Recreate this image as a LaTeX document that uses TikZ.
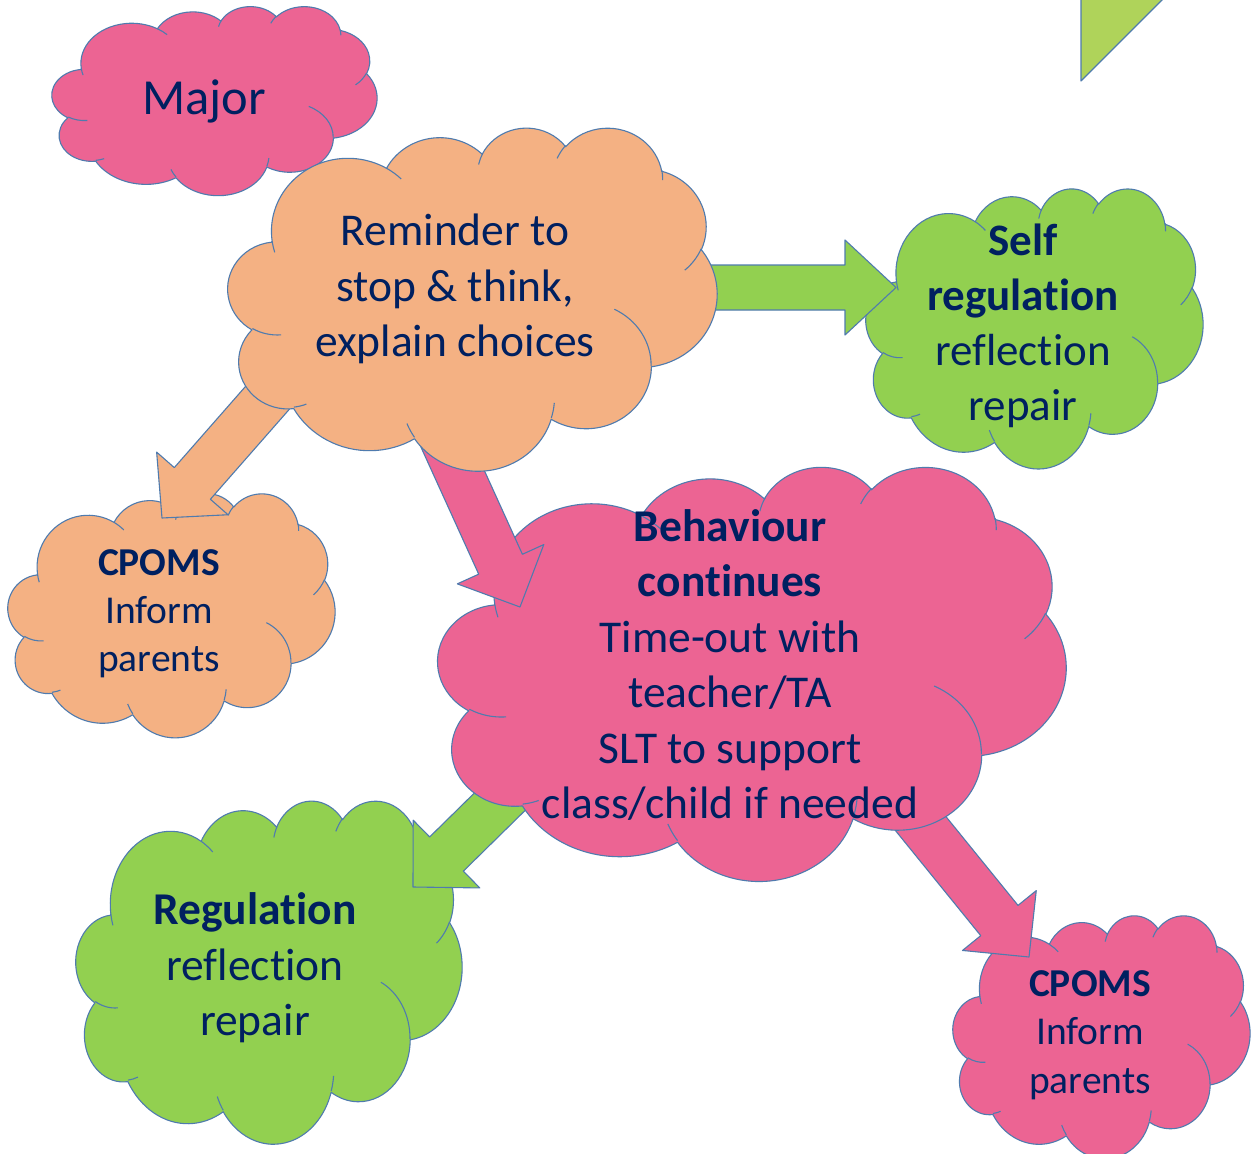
\documentclass[tikz,border=0pt]{standalone}
\usepackage{fontspec}
\setmainfont{Carlito}[Ligatures=NoCommon]
\usetikzlibrary{calc}

\definecolor{pinkfill}{HTML}{EC6493}
\definecolor{peachfill}{HTML}{F4B183}
\definecolor{greenfill}{HTML}{92D050}
\definecolor{limefill}{HTML}{AFD35A}
\definecolor{edgeblue}{HTML}{4F7BAE}
\definecolor{navytext}{HTML}{002060}

\pgfdeclarelayer{bg}
\pgfsetlayers{bg,main}

% one lobe of the cloud outline: radii, start angle and sweep (geometric degrees)
\newcommand\puff[4]{arc[x radius=#1,y radius=#2,start angle={pa(#3,#1,#2)},end angle={pa(#3+#4,#1,#2)}]}

% cloud outline in a 43.2 x 43.2 box, y pointing down
\newcommand\cloudouter{(3.900,14.370)
 \puff{6.753}{9.190}{-190.48748}{123.78053}
 \puff{5.333}{7.267}{-144.10238}{89.94523}
 \puff{4.365}{5.945}{-145.80792}{99.72302}
 \puff{4.857}{6.595}{-130.98607}{117.24173}
 \puff{5.333}{7.273}{-78.70888}{109.02692}
 \puff{6.775}{9.220}{-46.26725}{130.269}
 \puff{5.785}{7.867}{0.62502}{114.03333}
 \puff{6.752}{9.215}{22.4516}{115.17255}
 \puff{7.720}{10.543}{66.24263}{75.71102}
 \puff{4.360}{5.918}{-274.94208}{146.73557}
 \puff{4.345}{5.945}{-246.8285}{152.51885}
 -- cycle}

% short inner creases between the lobes
\newcommand\cloudinner{
 (4.693,26.177) \puff{4.345}{5.945}{86.742}{26.4295}
 (6.928,34.899) \puff{4.360}{5.918}{73.61047}{11.44747}
 (16.478,39.090) \puff{6.752}{9.215}{137.62415}{14.0811}
 (28.827,34.751) \puff{6.752}{9.215}{6.45327}{15.99835}
 (34.129,22.954) \puff{5.785}{7.867}{-70.29235}{70.91737}
 (41.798,15.354) \puff{5.333}{7.273}{30.31803}{27.7515}
 (38.324,5.426) \puff{4.857}{6.595}{-13.74433}{14.85973}
 (29.078,3.952) \puff{4.857}{6.595}{-149.18145}{18.19757}
 (22.141,4.720) \puff{4.365}{5.945}{-163.49427}{17.68865}
 (14.000,5.192) \puff{6.753}{9.190}{-66.70695}{12.31935}
 (4.127,15.789) \puff{6.753}{9.190}{157.65435}{11.85817}
}

% cloud with top-left corner (#1,#2), width #3, height #4, fill #5
\newcommand\cloudshape[5]{%
  \begin{scope}[shift={(#1,#2)}, xscale=#3/43.2, yscale=#4/43.2]
    \fill[#5] \cloudouter;
    \draw[edge] \cloudouter;
    \draw[edge] \cloudinner;
  \end{scope}}

\tikzset{
  edge/.style={draw=edgeblue, line width=1.1pt, line join=round},
  txt/.style={text=navytext, align=center, inner sep=0pt},
  arrowdims/.code args={#1/#2/#3}{\def\aw{#1}\def\ah{#2}\def\al{#3}},
  blockarrow/.style={edge, arrowdims=#1, to path={
    ($(\tikztostart)!\aw!90:(\tikztotarget)$)
    -- ($(\tikztotarget)!\al!(\tikztostart)!\aw!90:(\tikztotarget)$)
    -- ($(\tikztotarget)!\al!(\tikztostart)!\ah!90:(\tikztotarget)$)
    -- (\tikztotarget)
    -- ($(\tikztotarget)!\al!(\tikztostart)!\ah!-90:(\tikztotarget)$)
    -- ($(\tikztotarget)!\al!(\tikztostart)!\aw!-90:(\tikztotarget)$)
    -- ($(\tikztostart)!\aw!-90:(\tikztotarget)$)
    -- cycle}},
}

\begin{document}
\begin{tikzpicture}[x=1pt, y=-1pt,
  declare function={pa(\pA,\pW,\pH)=\pA+atan(((\pW-\pH)*sin(\pA)*cos(\pA))/(\pH*cos(\pA)*cos(\pA)+\pW*sin(\pA)*sin(\pA)));}]
\useasboundingbox (0,0) rectangle (1251,1154);

% texts
\node[txt, font=\fontsize{50.5}{60}\selectfont] (major) at (204,101) {Major};
\node[txt, font=\fontsize{45.5}{55.5}\selectfont] (remind) at (455,289)
  {Reminder to\\stop \& think,\\explain choices};
\node[txt, font=\fontsize{45}{55}\selectfont] (selfreg) at (1023,326)
  {\textbf{Self}\\\textbf{regulation}\\reflection\\repair};
\node[txt, font=\fontsize{39.5}{48}\selectfont] (cpomsL) at (159,614)
  {\textbf{CPOMS}\\Inform\\parents};
\node[txt, font=\fontsize{45.5}{55.4}\selectfont] (behav) at (730,665)
  {\textbf{Behaviour}\\\textbf{continues}\\Time-out with\\teacher/TA\\SLT to support\\class/child if needed};
\node[txt, font=\fontsize{45.5}{55.5}\selectfont] (reg) at (255,968)
  {\textbf{Regulation}\\reflection\\repair};
\node[txt, font=\fontsize{39.5}{48.5}\selectfont] (cpomsR) at (1090,1035)
  {\textbf{CPOMS}\\Inform\\parents};

% arrow ends
\coordinate (aS) at (700,287.5);  \coordinate (aT) at (896,287.5);
\coordinate (bS) at (298,363);    \coordinate (bT) at (162,518);
\coordinate (cS) at (430,409);    \coordinate (cT) at (520,607);
\coordinate (dS) at (532,770);    \coordinate (dT) at (413,887);
\coordinate (eS) at (904,803);    \coordinate (eT) at (1029,957);

\begin{pgfonlayer}{bg}
  \fill[white] (0,0) rectangle (1251,1154);
  \cloudshape{52}{6}{325}{189}{pinkfill}
  \cloudshape{866}{188}{337}{280}{greenfill}
  \cloudshape{8}{493}{327}{244}{peachfill}
  \cloudshape{76}{800}{386}{343}{greenfill}
  \cloudshape{953}{915}{297}{243}{pinkfill}
  \draw[blockarrow=24pt/47.5pt/47pt, fill=greenfill] (dS) to (dT);
  \draw[blockarrow=24pt/47.5pt/47pt, fill=pinkfill] (eS) to (eT);
  \cloudshape{438}{466}{628}{414}{pinkfill}
  \draw[blockarrow=22.5pt/47.5pt/51pt, fill=greenfill] (aS) to (aT);
  \draw[blockarrow=24pt/47.5pt/46pt, fill=peachfill] (bS) to (bT);
  \draw[blockarrow=24pt/47.5pt/47pt, fill=pinkfill] (cS) to (cT);
  \cloudshape{228}{127}{489}{343}{peachfill}
  \draw[edge, fill=limefill] (1081,-10) -- (1081,81) -- (1172,-10);
\end{pgfonlayer}
\end{tikzpicture}
\end{document}
